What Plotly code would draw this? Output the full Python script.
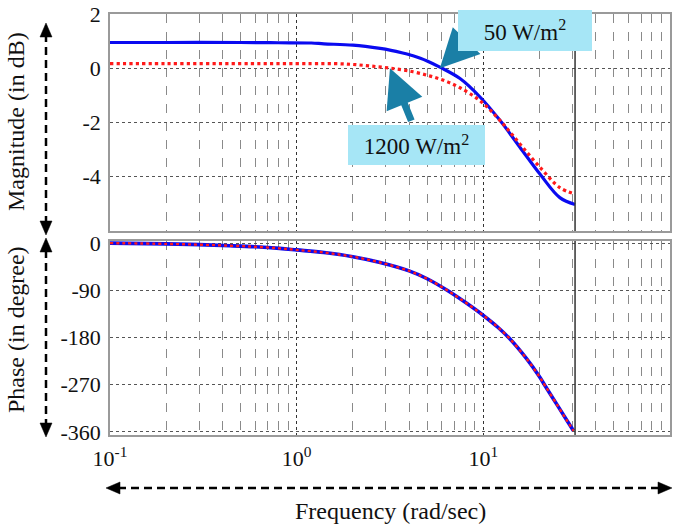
import math
import plotly.graph_objects as go
from plotly.subplots import make_subplots

# ---------------- data ----------------
freq_mag_50 = [0.1, 0.2, 0.5, 0.8, 1.2, 1.4, 2.0, 2.8, 3.2, 3.7, 4.2, 4.6, 5.0,
               5.85, 7.5, 9.6, 12.3, 15.7, 20.1, 25.7, 31.0]
mag_50 = [0.95, 0.95, 0.95, 0.94, 0.93, 0.90, 0.85, 0.73, 0.66, 0.56, 0.46, 0.37, 0.27,
          0.04, -0.38, -1.06, -1.93, -2.91, -3.90, -4.77, -5.02]

freq_mag_1200 = [0.1, 0.2, 0.5, 0.8, 1.2, 1.6, 2.0, 2.5, 3.2, 4.2, 5.2, 6.2,
                 7.5, 9.6, 12.3, 15.7, 20.1, 25.7, 31.0]
mag_1200 = [0.17, 0.17, 0.17, 0.17, 0.17, 0.17, 0.14, 0.08, 0.0, -0.13, -0.29, -0.46,
            -0.72, -1.20, -1.93, -2.79, -3.65, -4.40, -4.64]

freq_phase = [0.1, 0.2, 0.3, 0.44, 0.6, 0.81, 1.0, 1.4, 2.0, 2.8, 4.0, 5.0, 6.4, 8.0,
              10.0, 12.0, 13.9, 17.0, 20.0, 21.5, 25.0, 28.0, 30.4]
phase_50 = [0, -1.5, -3, -5, -7, -10, -13, -18, -26, -37, -53, -68, -90, -113,
            -138, -161, -183, -220, -255, -273, -310, -338, -358]
phase_1200 = [0, -1.5, -3, -5, -7, -10, -13, -18, -26, -37, -53, -68, -90, -113,
              -138, -161, -183, -220, -255, -273, -310, -338, -358]

x_tickvals = [0.1, 1, 10, 100]
x_ticktext = ["10<sup>-1</sup>", "10<sup>0</sup>", "10<sup>1</sup>", "10<sup>2</sup>"]
mag_tickvals = [2, 0, -2, -4]
mag_ticktext = ["2", "0", "-2", "-4"]
phase_tickvals = [0, -90, -180, -270, -360]
phase_ticktext = ["0", "-90", "-180", "-270", "-360"]
label_50 = "50 W/m<sup>2</sup>"
label_1200 = "1200 W/m<sup>2</sup>"
mag_title = "Magnitude (in dB)"
phase_title = "Phase (in degree)"
freq_title = "Frequency (rad/sec)"

# ---------------- styling ----------------
FONT = "Liberation Serif"
BLUE = "#0a0af0"
RED = "#ff1a1a"
TEAL = "#1a7fa6"
BOX = "#a6e6f6"
W, H = 681, 527
L, R, T, B = 110, 11, 14, 92
PW, PH = W - L - R, H - T - B


def px(x):
    return (x - L) / PW


def py(y):
    return (H - B - y) / PH


fig = make_subplots(rows=2, cols=1, shared_xaxes=False, vertical_spacing=0.0)

fig.add_trace(go.Scatter(x=freq_mag_50, y=mag_50, mode="lines", line_shape="spline",
                         line=dict(color=BLUE, width=3.2), name="50"), row=1, col=1)
fig.add_trace(go.Scatter(x=freq_mag_1200, y=mag_1200, mode="lines", line_shape="spline",
                         line=dict(color=RED, width=3.2, dash="dot"), name="1200"), row=1, col=1)
fig.add_trace(go.Scatter(x=freq_phase, y=phase_50, mode="lines", line_shape="spline",
                         line=dict(color=BLUE, width=3.6), name="50p"), row=2, col=1)
fig.add_trace(go.Scatter(x=freq_phase, y=phase_1200, mode="lines", line_shape="spline",
                         line=dict(color=RED, width=2.4, dash="dot"), name="1200p"), row=2, col=1)

minor_vals = [m * 10 ** d for d in (-1, 0, 1) for m in range(2, 10)]

xcommon = dict(type="log", range=[-1, 2], showline=True, mirror=True, linecolor="#9a9a9a",
               linewidth=1.5, showgrid=True, gridcolor="#333", griddash="dot", gridwidth=1.2,
               tickmode="array", tickvals=x_tickvals, ticktext=x_ticktext, ticks="",
               minor=dict(tickmode="array", tickvals=minor_vals, showgrid=True,
                          gridcolor="#8a8a8a", griddash="dash", gridwidth=1, ticks=""),
               zeroline=False, automargin=False)
fig.update_xaxes(**xcommon)
fig.update_xaxes(showticklabels=False, row=1, col=1)
fig.update_xaxes(showticklabels=True, tickfont=dict(family=FONT, size=22, color="#111"),
                 ticklabelstandoff=3, row=2, col=1)

ycommon = dict(showline=True, mirror=True, linecolor="#9a9a9a", linewidth=1.5,
               showgrid=True, gridcolor="#555", griddash="dot", gridwidth=1.2,
               zeroline=False, ticks="", automargin=False, ticklabelstandoff=3,
               tickfont=dict(family=FONT, size=22, color="#111"))
fig.update_yaxes(**ycommon)
fig.update_yaxes(range=[-6, 2], tickmode="array", tickvals=mag_tickvals,
                 ticktext=mag_ticktext, row=1, col=1)
fig.update_yaxes(range=[-366, 4], tickmode="array", tickvals=phase_tickvals,
                 ticktext=phase_ticktext, row=2, col=1)

fig.update_layout(
    xaxis=dict(domain=[0, 1]), xaxis2=dict(domain=[0, 1]),
    yaxis=dict(domain=[py(231), 1]), yaxis2=dict(domain=[0, py(241)]),
)

shapes = []
# vertical line at the end of the data
xe = (math.log10(freq_mag_50[-1]) + 1) / 3
shapes.append(dict(type="line", xref="paper", yref="y domain", x0=xe, x1=xe, y0=0, y1=1,
                   line=dict(color="#333", width=1.5)))
shapes.append(dict(type="line", xref="paper", yref="y2 domain", x0=xe, x1=xe, y0=0, y1=1,
                   line=dict(color="#333", width=1.5)))


def tri(tip, base_c, half, vertical=True):
    (tx, ty), (bx, by) = tip, base_c
    if vertical:
        pts = [(tx, ty), (bx - half, by), (bx + half, by)]
    else:
        pts = [(tx, ty), (bx, by - half), (bx, by + half)]
    path = "M " + " L ".join(f"{px(a):.5f},{py(b):.5f}" for a, b in pts) + " Z"
    return dict(type="path", xref="paper", yref="paper", path=path,
                fillcolor="black", line=dict(color="black", width=0.5))


def dline(x0, y0, x1, y1):
    return dict(type="line", xref="paper", yref="paper", x0=px(x0), y0=py(y0),
                x1=px(x1), y1=py(y1), line=dict(color="black", width=2.5, dash="8px,5px"))


AX = 46
shapes += [dline(AX, 34, AX, 224), tri((AX, 23), (AX, 37), 6), tri((AX, 235), (AX, 221), 6)]
shapes += [dline(AX, 250, AX, 426), tri((AX, 238), (AX, 252), 6), tri((AX, 437), (AX, 423), 6)]
shapes += [dline(118, 488, 660, 488), tri((106, 488), (120, 488), 6, False),
           tri((672, 488), (658, 488), 6, False)]
fig.update_layout(shapes=shapes)

ann = []
ann.append(dict(xref="paper", yref="paper", x=px(16), y=py(122), text=mag_title,
                textangle=-90, showarrow=False, font=dict(family=FONT, size=24, color="#111"),
                xanchor="center", yanchor="middle"))
ann.append(dict(xref="paper", yref="paper", x=px(16), y=py(330), text=phase_title,
                textangle=-90, showarrow=False, font=dict(family=FONT, size=24, color="#111"),
                xanchor="center", yanchor="middle"))
ann.append(dict(xref="paper", yref="paper", x=px(390), y=py(511), text=freq_title,
                showarrow=False, font=dict(family=FONT, size=24, color="#111"),
                xanchor="center", yanchor="middle"))
# arrows
ann.append(dict(xref="x", yref="y", x=math.log10(5.85), y=0, ax=29, ay=-30, text="",
                showarrow=True, arrowhead=2, arrowsize=1.1, arrowwidth=7, arrowcolor=TEAL))
ann.append(dict(xref="x", yref="y", x=math.log10(3.16), y=0, ax=22, ay=54, text="",
                showarrow=True, arrowhead=2, arrowsize=1.1, arrowwidth=7, arrowcolor=TEAL))
# label boxes
ann.append(dict(xref="paper", yref="paper", x=px(458), y=py(10), xanchor="left", yanchor="top",
                width=134, height=41, bgcolor=BOX, borderpad=0, borderwidth=0,
                text=label_50, showarrow=False, align="center", valign="middle",
                font=dict(family=FONT, size=23, color="#111")))
ann.append(dict(xref="paper", yref="paper", x=px(348), y=py(125), xanchor="left", yanchor="top",
                width=137, height=40, bgcolor=BOX, borderpad=0, borderwidth=0,
                text=label_1200, showarrow=False, align="center", valign="middle",
                font=dict(family=FONT, size=23, color="#111")))
fig.update_layout(annotations=ann)

fig.update_layout(width=W, height=H, margin=dict(l=L, r=R, t=T, b=B, autoexpand=False),
                  paper_bgcolor="white", plot_bgcolor="white", showlegend=False,
                  font=dict(family=FONT), hovermode=False)

fig.write_html("out.html", config={"displayModeBar": False},
               post_script="document.body.style.margin='0px';document.body.style.overflow='hidden';")
